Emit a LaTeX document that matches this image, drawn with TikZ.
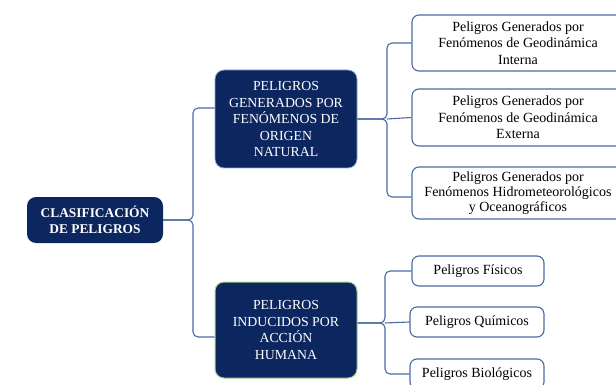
\documentclass[tikz,border=0pt]{standalone}
\usepackage{fontspec}
\setmainfont{Liberation Serif}
\definecolor{navy}{HTML}{0C2660}
\definecolor{lineblue}{HTML}{4A6BA3}
\definecolor{softgreen}{HTML}{A8D08D}
\definecolor{softblue}{HTML}{8FA8D0}
\begin{document}
\begin{tikzpicture}[x=1pt,y=-1pt,
  navybox/.style={fill=navy, text=white, rounded corners=9pt, align=center,
    font=\fontsize{13.8}{16.5}\selectfont, inner sep=0pt},
  leafbox/.style={draw=lineblue, line width=1.1pt, fill=white, rounded corners=7pt,
    align=center, font=\fontsize{14}{16.5}\selectfont, inner sep=0pt},
  conn/.style={draw=lineblue, line width=1.1pt, rounded corners=5pt}]
\useasboundingbox (0,0) rectangle (616,385);
\clip (0,0) rectangle (616,385);
\fill[white] (0,0) rectangle (616,385);

\node[navybox, minimum width=136pt, minimum height=46pt, font=\bfseries\fontsize{13.4}{16.5}\selectfont] (clas) at (95,220) {CLASIFICACIÓN\\DE PELIGROS};
\node[navybox, draw=softblue, line width=0.8pt, minimum width=142pt, minimum height=98pt] (gen) at (286,119) {PELIGROS\\GENERADOS POR\\FENÓMENOS DE\\ORIGEN\\NATURAL};
\node[navybox, draw=softgreen, line width=1pt, minimum width=142pt, minimum height=96pt] (ind) at (286,330) {PELIGROS\\INDUCIDOS POR\\ACCIÓN\\HUMANA};

\node[leafbox, minimum width=212pt, minimum height=56pt] (r1) at (518,43) {Peligros Generados por\\Fenómenos de Geodinámica\\Interna};
\node[leafbox, minimum width=212pt, minimum height=57pt] (r2) at (518,117.5) {Peligros Generados por\\Fenómenos de Geodinámica\\Externa};
\node[leafbox, minimum width=212pt, minimum height=52pt, font=\fontsize{14}{15}\selectfont] (r3) at (518,193) {Peligros Generados por\\Fenómenos Hidrometeorológicos\\y Oceanográficos};

\node[leafbox, minimum width=132pt, minimum height=30pt] (f) at (478,271) {Peligros Físicos};
\node[leafbox, minimum width=134pt, minimum height=30pt] (q) at (477,322) {Peligros Químicos};
\node[leafbox, minimum width=134pt, minimum height=30pt] (b) at (477,374) {Peligros Biológicos};

% left brace
\coordinate (lb) at (193,220);
\draw[conn] (clas.east) -- (lb) -- (193,108) -- ([yshift=11pt]gen.west);
\draw[conn] (clas.east) -- (lb) -- (193,337) -- ([yshift=-7pt]ind.west);

% upper right brace
\coordinate (ub) at (387,119);
\draw[conn] (gen.east) -- (ub) -- (387,43) -- (r1.west);
\draw[conn] (gen.east) -- (ub) -- (387,197) -- ([yshift=-4pt]r3.west);
\draw[conn] (ub) -- (r2.west);

% lower right brace
\coordinate (db) at (385,323);
\draw[conn] ([yshift=7pt]ind.east) -- (db) -- (385,271) -- (f.west);
\draw[conn] ([yshift=7pt]ind.east) -- (db) -- (385,374) -- (b.west);
\draw[conn] (db) -- (q.west);
\end{tikzpicture}
\end{document}
